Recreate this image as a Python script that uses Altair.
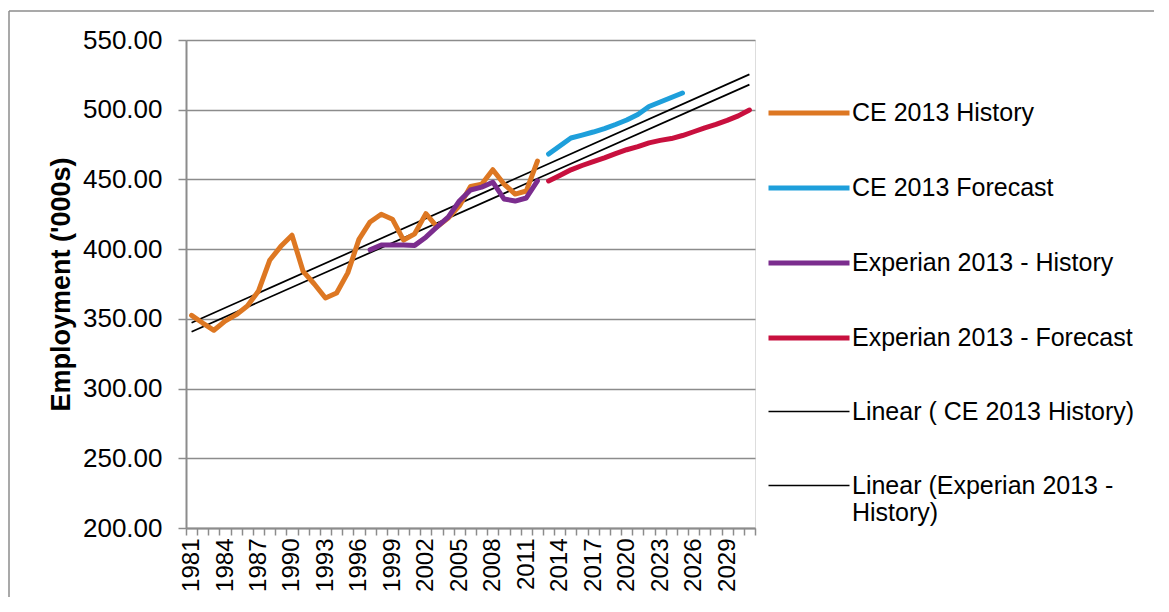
import altair as alt
import pandas as pd

# ---------------- data ----------------
years = list(range(1981, 2032))

ce_hist_years = list(range(1981, 2013))
ce_hist = [352.5, 347.0, 341.8, 348.4, 353.0, 359.2, 370.0, 392.0, 402.0, 410.0,
           384.0, 375.0, 365.0, 368.5, 383.0, 407.0, 419.5, 425.0, 421.5, 406.5,
           411.0, 425.5, 416.0, 422.3, 431.0, 445.0, 446.5, 457.0, 446.7, 439.5,
           441.7, 463.2]

ce_fc_years = list(range(2013, 2026))
ce_fc = [468.2, 474.0, 479.7, 481.8, 484.0, 486.5, 489.4, 492.6, 496.6, 502.3,
         505.5, 508.8, 512.0]

ex_hist_years = list(range(1997, 2013))
ex_hist = [399.5, 403.0, 403.0, 403.0, 402.7, 408.6, 416.0, 423.0, 434.5, 442.4,
           444.5, 448.0, 436.0, 434.5, 436.7, 449.0]

ex_fc_years = list(range(2013, 2032))
ex_fc = [448.9, 452.8, 456.9, 460.0, 462.8, 465.5, 468.5, 471.3, 473.5, 476.2,
         478.0, 479.3, 481.5, 484.2, 487.0, 489.5, 492.4, 495.6, 499.8]

y_ticks = [200, 250, 300, 350, 400, 450, 500, 550]

S_CEH = "\u00a0CE 2013 History"
S_CEF = "CE 2013 Forecast"
S_EXH = "Experian 2013 - History"
S_EXF = "Experian 2013 - Forecast"
S_LCE = "Linear ( CE 2013 History)"
S_LEX = "Linear (Experian 2013 - History)"
series_names = [S_CEH, S_CEF, S_EXH, S_EXF, S_LCE, S_LEX]
series_colors = ["#DD7722", "#1E9FDB", "#7B2D8E", "#C8103E", "#000000", "#000000"]
series_widths = [5, 5, 5, 5, 1.7, 1.7]

rows = []
for name, ys, vs in [(S_CEH, ce_hist_years, ce_hist), (S_CEF, ce_fc_years, ce_fc),
                     (S_EXH, ex_hist_years, ex_hist), (S_EXF, ex_fc_years, ex_fc)]:
    for yr, v in zip(ys, vs):
        rows.append({"year": yr, "value": v, "series": name})
df = pd.DataFrame(rows)

FONT = "Liberation Sans"
GRAY = "#8C8C8C"

x_enc = alt.X(
    "year:O",
    scale=alt.Scale(type="band", domain=years, paddingInner=0, paddingOuter=0),
    axis=alt.Axis(
        title=None, labelAngle=270, labelFont=FONT, labelFontSize=24,
        labelColor="black", labelOverlap=False,
        labelExpr="(datum.value - 1981) % 3 == 0 ? datum.label : ''",
        tickBand="extent", tickSize=7, tickColor=GRAY, tickWidth=1.5,
        domainColor=GRAY, domainWidth=2, labelPadding=3, grid=False,
    ),
)
y_enc = alt.Y(
    "value:Q",
    scale=alt.Scale(domain=[200, 550], nice=False, zero=False),
    axis=alt.Axis(
        values=y_ticks, format=".2f", title="Employment ('000s)",
        titleFont=FONT, titleFontSize=27, titleFontWeight="bold", titleColor="black",
        titlePadding=7,
        labelFont=FONT, labelFontSize=26, labelColor="black", labelPadding=16,
        tickSize=8, tickColor=GRAY, tickWidth=1.5,
        domainColor=GRAY, domainWidth=2,
        grid=True, gridColor=GRAY, gridWidth=1.5,
    ),
)

legend = alt.Legend(
    title=None, orient="none", legendX=580, legendY=30, padding=0,
    symbolType="stroke", symbolSize=6561, labelFont=FONT, labelFontSize=25,
    labelColor="black", labelOffset=0, labelLimit=500, rowPadding=19,
    labelExpr="datum.label == 'Linear (Experian 2013 - History)' ? ['Linear (Experian 2013 -', 'History)'] : datum.label",
)
color_enc = alt.Color("series:N", scale=alt.Scale(domain=series_names, range=series_colors), legend=legend)
width_enc = alt.StrokeWidth(
    "series:N",
    scale=alt.Scale(type="ordinal", domain=series_names, range=series_widths),
    legend=legend,
)

base = alt.Chart(df)

lines = base.mark_line(strokeCap="round", strokeJoin="round").encode(
    x=x_enc, y=y_enc, color=color_enc, strokeWidth=width_enc
)

trend_ce = base.transform_filter(alt.datum.series == S_CEH).transform_regression(
    "year", "value", extent=[1981, 2031]
).transform_calculate(series=f"'{S_LCE}'").mark_line().encode(
    x=x_enc, y=y_enc, color=color_enc, strokeWidth=width_enc
)

trend_ex = base.transform_filter(alt.datum.series == S_EXH).transform_regression(
    "year", "value", extent=[1981, 2031]
).transform_calculate(series=f"'{S_LEX}'").mark_line().encode(
    x=x_enc, y=y_enc, color=color_enc, strokeWidth=width_enc
)

frame_data = pd.DataFrame({"k": [0]})
frame_left = alt.Chart(frame_data).mark_rule(color=GRAY, strokeWidth=1.5).encode(
    x=alt.value(-177), y=alt.value(-29), y2=alt.value(557)
)
frame_top = alt.Chart(frame_data).mark_rule(color=GRAY, strokeWidth=1.5).encode(
    x=alt.value(-177), x2=alt.value(968), y=alt.value(-29)
)

chart = alt.layer(trend_ce, trend_ex, lines, frame_left, frame_top).properties(
    width=569, height=488, padding={"top": 2, "left": 0, "right": 0, "bottom": 0}
).configure_view(stroke="transparent").configure(background="white")

chart.save("out.html", embed_options={"renderer": "svg", "actions": False})
